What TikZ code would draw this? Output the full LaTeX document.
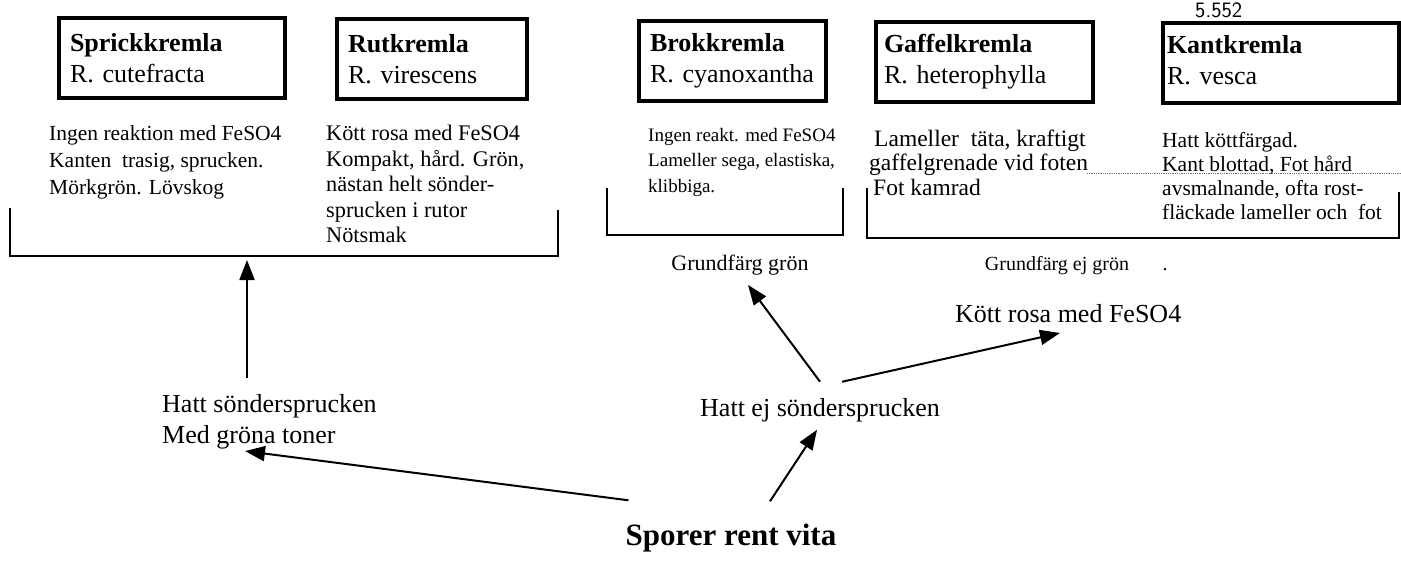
\documentclass[tikz,border=0pt]{standalone}
\usepackage{fontspec}
\setmainfont{Liberation Serif}
\usetikzlibrary{arrows.meta}

\begin{document}
\begin{tikzpicture}[x=1pt,y=-1pt,
    art/.style={draw,line width=4pt,anchor=north west,minimum height=80pt,
      inner xsep=11pt,inner ysep=0pt,align=left,
      font=\fontsize{26}{31}\selectfont},
    desc/.style={anchor=north west,inner sep=0pt,align=left},
    key/.style={inner sep=0pt,align=left,font=\fontsize{26}{31}\selectfont},
    lbl/.style={anchor=base,inner sep=0pt},
    arr/.style={line width=2pt,-{Triangle[length=20pt,width=15pt]}},
    bracket/.style={line width=1.6pt},
  ]
  \useasboundingbox (0,0) rectangle (1401,562);

  \draw[densely dotted,line width=0.8pt,black!55] (1087,173) -- (1401,173);

  \node[art,text width=204pt] (spr) at (57,16)
    {\textbf{Sprickkremla}\\R. cutefracta};
  \node[art,text width=168pt] (rut) at (335,17)
    {\textbf{Rutkremla}\\R. virescens};
  \node[art,text width=165pt] (brok) at (637,19)
    {\textbf{Brokkremla}\\R. cyanoxantha};
  \node[art,inner xsep=8pt,text width=201pt] (gaff) at (874,20)
    {\textbf{Gaffelkremla}\\R. heterophylla};
  \node[art,inner xsep=4pt,text width=228pt] (kant) at (1161,21)
    {\textbf{Kantkremla}\\R. vesca\vphantom{y}};

  \node[anchor=base west,inner sep=0pt,font=\fontsize{22}{22}\sffamily] (sida)
    at (1195,17) {5.552};

  \node[desc,font=\fontsize{21.5}{27}\selectfont] (d1) at (49,125)
    {Ingen reaktion med FeSO4\\Kanten~ trasig, sprucken.\\Mörkgrön. Lövskog};
  \node[desc,font=\fontsize{22.3}{25.5}\selectfont] (d2) at (326,125)
    {Kött rosa med FeSO4\\Kompakt, hård. Grön,\\nästan helt sönder-\\sprucken i rutor\\Nötsmak};
  \node[desc,font=\fontsize{19}{25.5}\selectfont] (d3) at (648,128)
    {Ingen reakt. med FeSO4\\Lameller sega, elastiska,\\klibbiga.};
  \node[desc,font=\fontsize{23.5}{24.5}\selectfont] (d4) at (869,129.5)
    {\hspace*{5pt}Lameller~ täta, kraftigt\\gaffelgrenade vid foten\\\hspace*{4pt}Fot kamrad};
  \node[desc,font=\fontsize{21.5}{24}\selectfont] (d5) at (1162,132)
    {Hatt köttfärgad.\\Kant blottad, Fot hård\\avsmalnande, ofta rost-\\fläckade lameller och~ fot};

  \draw[bracket] (10,208) |- (558,256) -- (558,210);
  \draw[bracket] (607,188) |- (843,235) -- (843,188);
  \draw[bracket] (867,188) |- (1399,238) -- (1399,192);
  \coordinate (b1) at (247,260);

  \node[lbl,font=\fontsize{22}{22}\selectfont] (gron) at (740,270) {Grundfärg grön};
  \node[lbl,font=\fontsize{20}{20}\selectfont] (ejgron) at (1057,270) {Grundfärg ej grön};
  \node[lbl,font=\fontsize{20}{20}\selectfont] (prick) at (1165,270) {.};

  \node[key,anchor=north west] (hatt) at (162,394)
    {Hatt söndersprucken\\Med gröna toner};
  \node[key,anchor=base west] (hattej) at (700,416) {Hatt ej söndersprucken};
  \node[key,anchor=base west] (kott) at (955,322) {Kött rosa med FeSO4};
  \node[key,anchor=base,font=\fontsize{31}{31}\selectfont\bfseries] (sporer)
    at (731,545) {Sporer rent vita};

  \draw[arr,shorten <=16pt] (hatt.north -| b1) -- (b1);
  \draw[arr] ([xshift=3pt,yshift=23pt]sporer.north west)
    -- ([xshift=83pt,yshift=-2pt]hatt.south west);
  \draw[arr] ([xshift=39pt,yshift=22pt]sporer.north)
    -- ([xshift=-3pt,yshift=-8pt]hattej.south);
  \draw[arr] ([yshift=16pt]hattej.north)
    -- ([xshift=8pt,yshift=-10pt]gron.south);
  \draw[arr] ([xshift=22pt,yshift=16pt]hattej.north)
    -- ([xshift=105pt,yshift=-11pt]kott.base west);
\end{tikzpicture}
\end{document}
